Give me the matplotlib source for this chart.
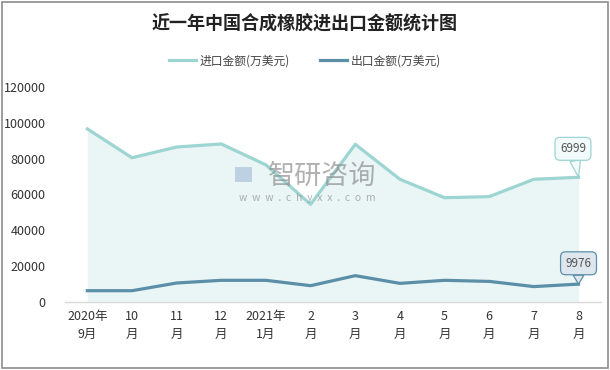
import matplotlib.pyplot as plt
import matplotlib.patches as mpatches

plt.rcParams['font.family'] = ['Noto Sans CJK SC', 'DejaVu Sans']

# data
months = ['2020年\n9月', '10\n月', '11\n月', '12\n月', '2021年\n1月', '2\n月',
          '3\n月', '4\n月', '5\n月', '6\n月', '7\n月', '8\n月']
imports = [96600, 80500, 86500, 88200, 76500, 54500,
           88000, 68500, 58200, 58800, 68500, 69600]
exports = [6300, 6300, 10600, 12100, 12100, 9100,
           14700, 10400, 12100, 11500, 8600, 9976]
import_label = '6999'
export_label = '9976'
yticks = [0, 20000, 40000, 60000, 80000, 100000, 120000]

imp_color = '#9dd5d2'
exp_color = '#5b8fa8'
fill_color = '#eaf6f6'

fig = plt.figure(figsize=(6.1, 3.7), dpi=100)
ax = fig.add_axes([0.1066, 0.1838, 0.8784, 0.5811])

x = list(range(len(months)))
ax.fill_between(x, imports, 0, color=fill_color, lw=0, zorder=1)
ax.plot(x, imports, color=imp_color, lw=2.3, zorder=3, label='进口金额(万美元)')
ax.plot(x, exports, color=exp_color, lw=2.3, zorder=3, label='出口金额(万美元)')

ax.set_xlim(-0.5, len(months) - 0.5)
ax.set_ylim(0, 120000)
ax.set_yticks(yticks)
ax.set_yticklabels([str(v) for v in yticks], fontsize=9, color='#333333')
ax.set_xticks(x)
ax.set_xticklabels(months, fontsize=9, color='#333333', linespacing=1.5)
ax.tick_params(length=0, pad=14, axis='y')
ax.tick_params(length=0, pad=6, axis='x')
for s in ['top', 'right', 'left']:
    ax.spines[s].set_visible(False)
ax.spines['bottom'].set_color('#d9d9d9')
ax.spines['bottom'].set_linewidth(1)

# data labels (callouts)
ax.annotate(import_label, xy=(x[-1], imports[-1]), xytext=(-4, 20.5),
            textcoords='offset points',
            ha='center', va='center', fontsize=8.5, color='#555555',
            bbox=dict(boxstyle='round,pad=0.42', fc='#f2fafa', ec=imp_color, lw=0.9),
            arrowprops=dict(arrowstyle='wedge,tail_width=0.9', fc='#f2fafa', ec=imp_color,
                            lw=0.9, shrinkA=0, shrinkB=0), zorder=5)
ax.annotate(export_label, xy=(x[-1], exports[-1]), xytext=(0, 15),
            textcoords='offset points',
            ha='center', va='center', fontsize=8.5, color='#555555',
            bbox=dict(boxstyle='round,pad=0.42', fc='#dfe7ee', ec=exp_color, lw=0.9),
            arrowprops=dict(arrowstyle='wedge,tail_width=0.9', fc='#dfe7ee', ec=exp_color,
                            lw=0.9, shrinkA=0, shrinkB=0), zorder=5)

# watermark
fig.text(0.528, 0.524, '智研咨询', fontsize=19.5, color='#8f8f8f', alpha=0.7,
         ha='center', va='center', zorder=4)
fig.text(0.503, 0.465, 'w  w  w  .  c  h  y  x  x  .  c  o  m', fontsize=7.5, color='#8f8f8f',
         alpha=0.7, ha='center', va='center', zorder=4)
fig.patches.append(mpatches.Rectangle((0.385, 0.508), 0.028, 0.040, transform=fig.transFigure,
                                      fc='#b5cbdf', ec='none', alpha=0.85))

# title and legend
fig.text(0.5, 0.935, '近一年中国合成橡胶进出口金额统计图', fontsize=13, fontweight='bold',
         color='#222222', ha='center', va='center')
fig.legend(loc='center', bbox_to_anchor=(0.5, 0.835), ncol=2, frameon=False,
           fontsize=8.5, handlelength=2.3, handletextpad=0.3, columnspacing=2.5,
           labelcolor='#444444')

# outer border
fig.patches.append(mpatches.Rectangle((0.004, 0.006), 0.992, 0.988, transform=fig.transFigure,
                                      fill=False, ec='#8c8c8c', lw=1.2))

fig.savefig('out.png', dpi=100)
